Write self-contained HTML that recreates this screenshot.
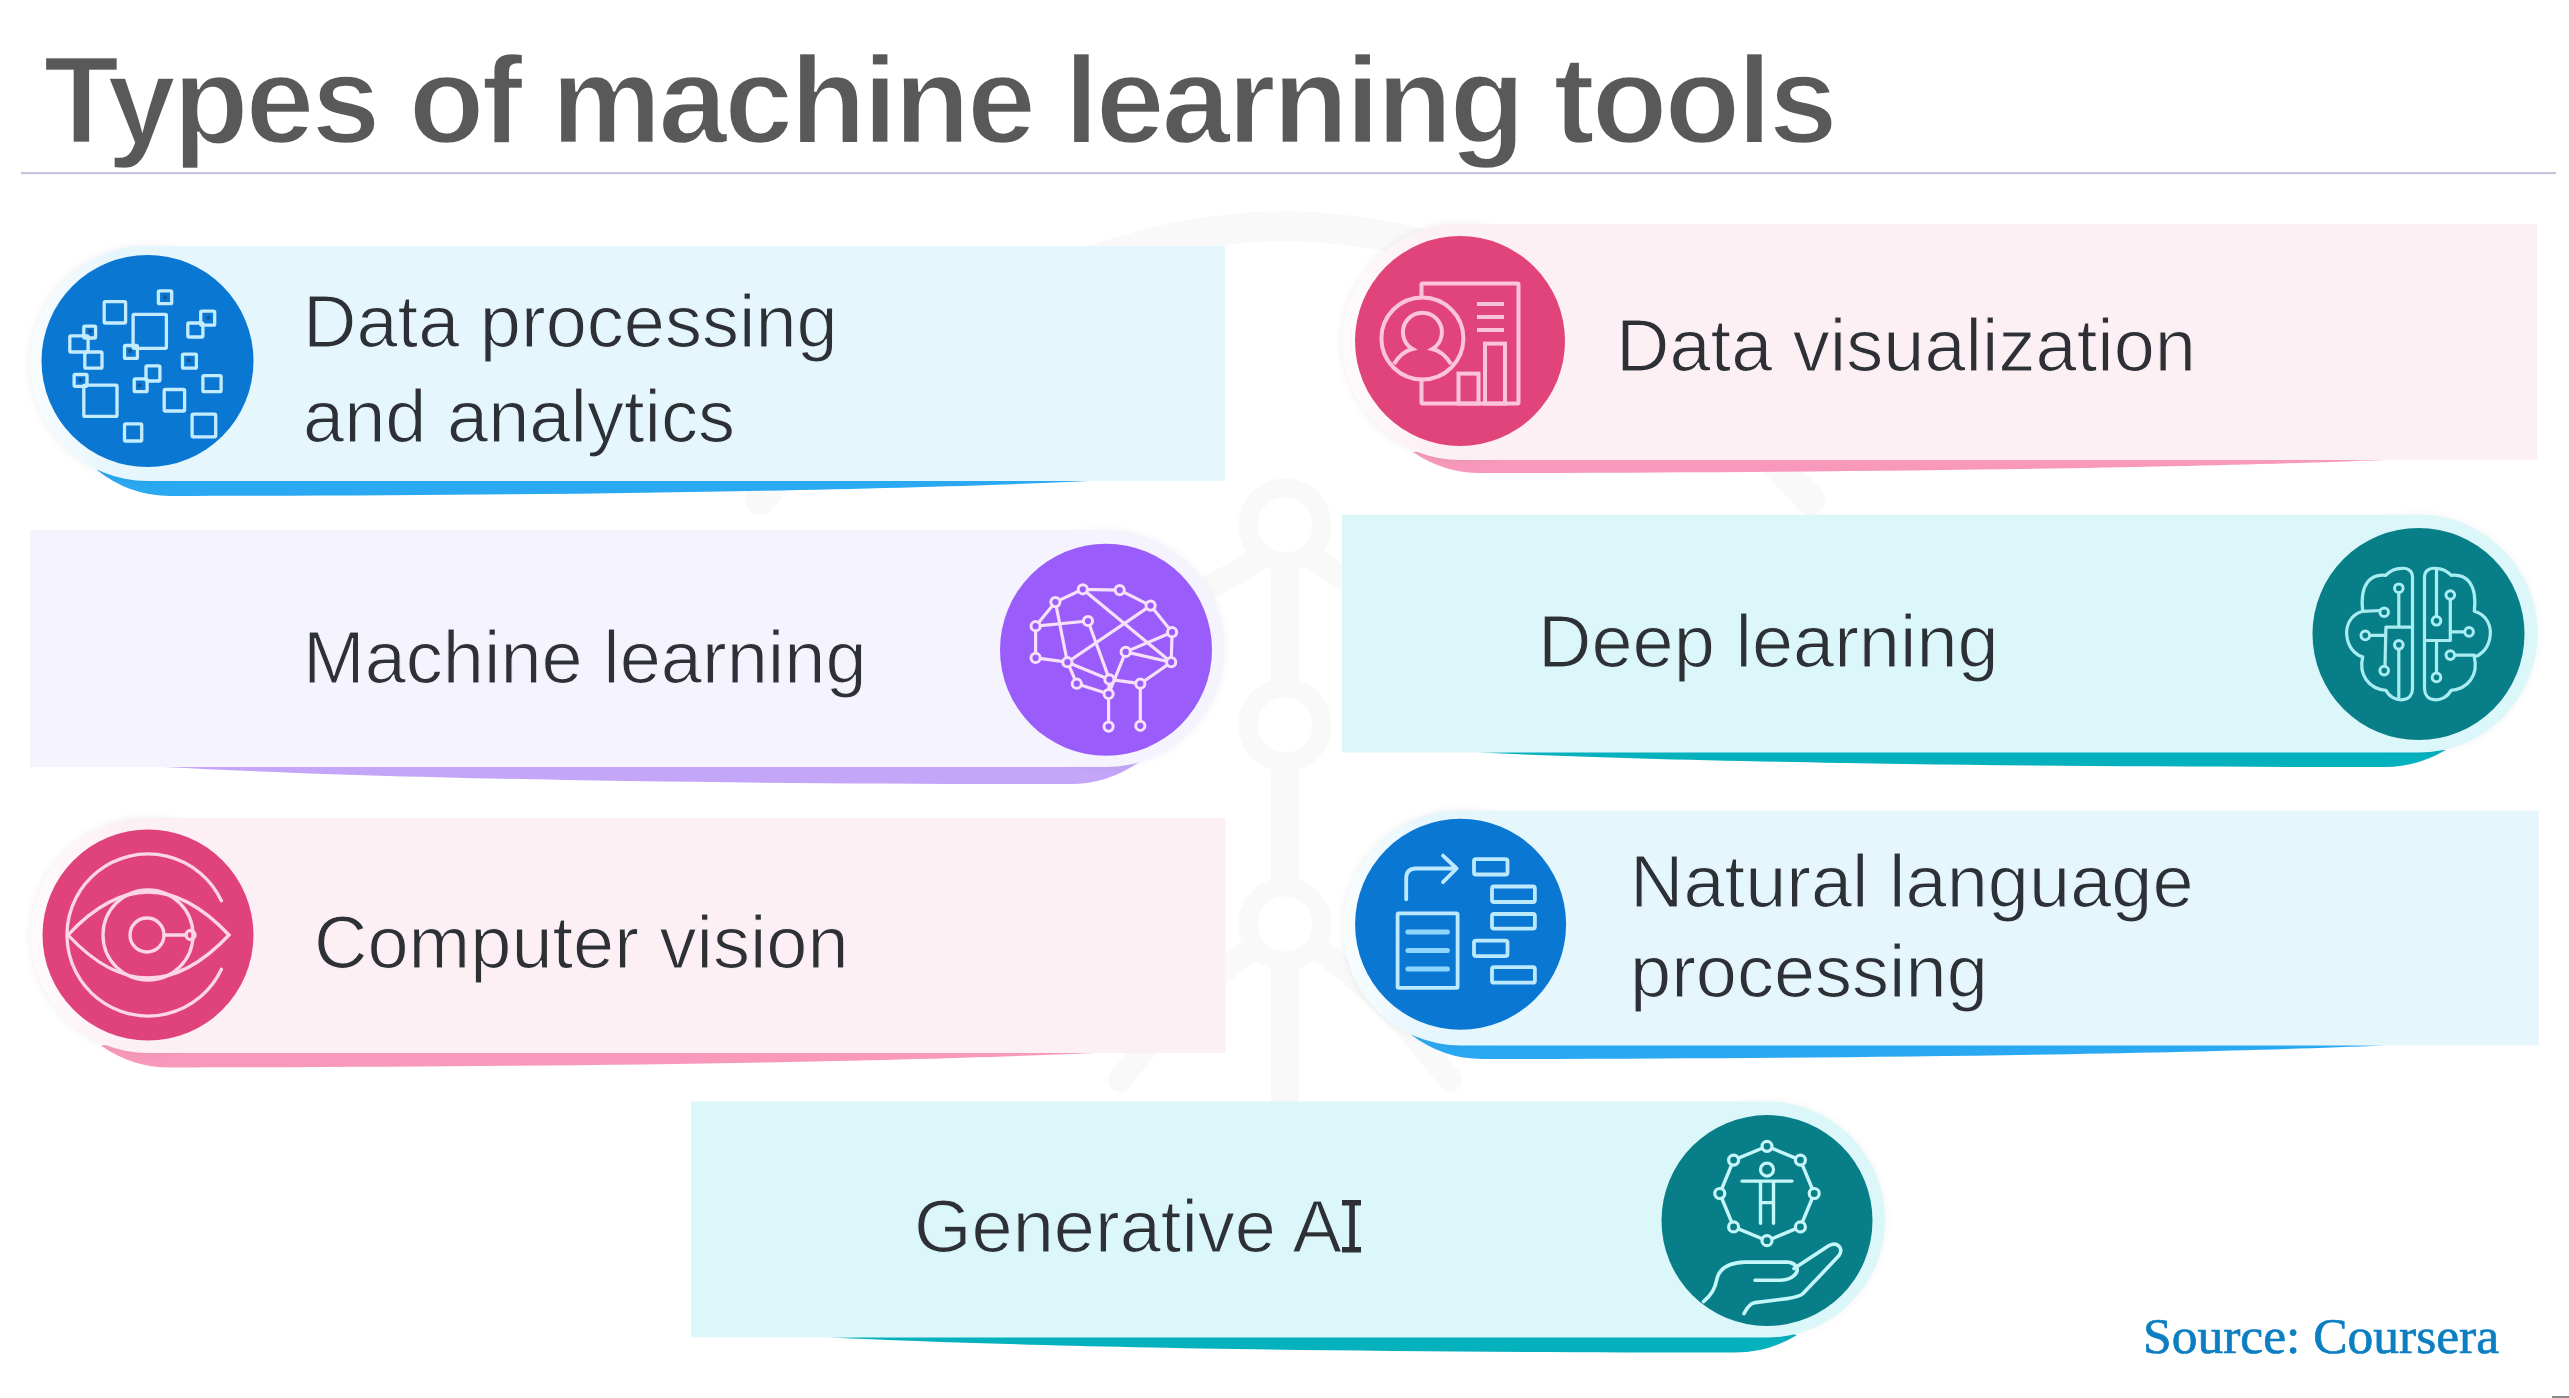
<!DOCTYPE html><html><head><meta charset="utf-8"><title>Types of machine learning tools</title><style>html,body{margin:0;padding:0;background:#fff;overflow:hidden}svg{display:block}</style></head><body><svg width="2569" height="1398" viewBox="0 0 2569 1398"><defs><filter id="sh" x="-30%" y="-30%" width="160%" height="160%"><feGaussianBlur stdDeviation="4"/></filter><filter id="bl" x="-5%" y="-50%" width="110%" height="200%"><feGaussianBlur stdDeviation="0.8"/></filter></defs><rect width="2569" height="1398" fill="#ffffff"/><g fill="none" stroke="#f9f9f9" stroke-linecap="round"><path d="M1285 560 V1110" stroke-width="28"/><circle cx="1285" cy="525" r="37" stroke-width="19" fill="#fff"/><circle cx="1285" cy="725" r="37" stroke-width="19" fill="#fff"/><circle cx="1285" cy="924" r="37" stroke-width="19" fill="#fff"/><path d="M1255 560 Q1200 600 1130 610 M1315 560 Q1370 600 1440 610" stroke-width="24"/><path d="M1250 950 Q1180 1000 1120 1080 M1320 950 Q1390 1000 1450 1080" stroke-width="24"/><path d="M760 500 Q1000 230 1285 226 Q1570 230 1810 500" stroke-width="30"/></g><rect x="2552" y="1396" width="17" height="2" fill="#8a8a8a"/><text x="43.5" y="143" font-family='"Liberation Sans", sans-serif' font-weight="bold" font-size="124" letter-spacing="-3.05" fill="#595959" stroke="#ffffff" stroke-width="2.4">Types of machine learning tools</text><rect x="21" y="172" width="2535" height="2.2" fill="#c9c4dd"/><path d="M97 470 A117.5 117.5 0 0 0 170.5 496 C602.7 495.5 906.1 489.2 1090 481 L170.5 469 Z" fill="#2aa9f2"/><defs><linearGradient id="g1" gradientUnits="userSpaceOnUse" x1="30.0" y1="0" x2="192.5" y2="0"><stop offset="0" stop-color="#ffffff"/><stop offset="0.55" stop-color="#ffffff" stop-opacity="0.0"/></linearGradient></defs><circle cx="147.5" cy="363.5" r="117.5" fill="#000" opacity="0.07" filter="url(#sh)"/><path d="M147.5 246 H1225 V481 H147.5 A117.5 117.5 0 0 1 147.5 246 Z" fill="#e5f6fd"/><path d="M147.5 246 H207.5 V481 H147.5 A117.5 117.5 0 0 1 147.5 246 Z" fill="url(#g1)" opacity="0.75"/><g transform="translate(147.5,361)"><circle r="106" fill="#0a78d2"/><g fill="none" stroke="#c4ecff" stroke-width="3.3" stroke-linejoin="round"><rect x="-43.3" y="-59.4" width="21.4" height="21.4" rx="1.2"/><rect x="-14.4" y="-46.6" width="33.3" height="33.9" rx="1.2"/><rect x="10.9" y="-70.2" width="13.3" height="12.9" rx="1.2"/><rect x="40.3" y="-38.0" width="15.1" height="14.0" rx="1.2"/><rect x="53.2" y="-49.8" width="14.0" height="14.0" rx="1.2"/><rect x="-77.7" y="-25.1" width="18.3" height="16.1" rx="1.2"/><rect x="-63.7" y="-34.8" width="11.8" height="11.8" rx="1.2"/><rect x="-62.7" y="-9.0" width="17.2" height="16.1" rx="1.2"/><rect x="-23.0" y="-15.5" width="12.9" height="12.9" rx="1.2"/><rect x="35.0" y="-6.9" width="13.9" height="14.0" rx="1.2"/><rect x="-13.3" y="17.8" width="12.9" height="12.9" rx="1.2"/><rect x="-1.5" y="4.9" width="13.9" height="15.1" rx="1.2"/><rect x="-73.4" y="13.5" width="12.9" height="11.8" rx="1.2"/><rect x="-63.7" y="24.2" width="33.2" height="31.2" rx="1.2"/><rect x="16.7" y="28.5" width="20.4" height="21.5" rx="1.2"/><rect x="55.4" y="14.6" width="18.2" height="16.1" rx="1.2"/><rect x="-23.0" y="62.9" width="17.2" height="17.1" rx="1.2"/><rect x="44.6" y="53.2" width="23.6" height="22.6" rx="1.2"/></g><g fill="#15578f"><circle cx="17.6" cy="-63.7" r="2"/><circle cx="60.7" cy="-43.3" r="2"/><circle cx="-57.3" cy="-29.4" r="2"/><circle cx="-17.6" cy="-10.1" r="2"/><circle cx="41.4" cy="-0.4" r="2"/><circle cx="-7.9" cy="24.2" r="2"/><circle cx="-67" cy="18.9" r="2"/></g></g><text x="303" y="346.5" font-family='"Liberation Sans", sans-serif' font-size="74" fill="#2d3135" stroke="#e5f6fd" stroke-width="1.2">Data processing</text><text x="303" y="441.5" font-family='"Liberation Sans", sans-serif' font-size="74" fill="#2d3135" stroke="#e5f6fd" stroke-width="1.2">and analytics</text><path d="M1413 452 A118 118 0 0 0 1480 473 C1905.3 472.5 2204.0 467.1 2385 460 L1480 448 Z" fill="#f899bb"/><defs><linearGradient id="g2" gradientUnits="userSpaceOnUse" x1="1342.0" y1="0" x2="1505" y2="0"><stop offset="0" stop-color="#ffffff"/><stop offset="0.55" stop-color="#ffffff" stop-opacity="0.0"/></linearGradient></defs><circle cx="1460" cy="342.0" r="118.0" fill="#000" opacity="0.07" filter="url(#sh)"/><path d="M1460 224 H2537 V460 H1460 A118.0 118.0 0 0 1 1460 224 Z" fill="#fdf0f5"/><path d="M1460 224 H1520 V460 H1460 A118.0 118.0 0 0 1 1460 224 Z" fill="url(#g2)" opacity="0.75"/><g transform="translate(1460,341)"><circle r="105" fill="#e0447a"/><g fill="none" stroke="#fcc3dc" stroke-width="4"><rect x="-38.5" y="-57.5" width="97" height="120" rx="1"/><path d="M17 -37 H44 M17 -24 H44 M17 -11 H44"/><rect x="25" y="2.6" width="20" height="60" /><rect x="-1.5" y="32.6" width="20" height="30" /><circle cx="-37.6" cy="-2.5" r="41" fill="#e0447a"/><path d="M-66 23 C-60 13 -54 9.5 -47.5 8 A19.5 19.5 0 1 1 -27.7 8 C-21 9.5 -15 13 -9 23"/></g></g><text x="1616" y="370.5" font-family='"Liberation Sans", sans-serif' font-size="74" fill="#2d3135" stroke="#fdf0f5" stroke-width="1.2">Data visualization</text><path d="M164 767 C345.2 776.4 617.1 784.0 1070.2 784 A118.5 118.5 0 0 0 1139 762 L1070.2 750 Z" fill="#c3a6f7"/><circle cx="1106" cy="648.5" r="118.5" fill="#000" opacity="0.05" filter="url(#sh)"/><path d="M30 530 H1106 A118.5 118.5 0 0 1 1106 767 H30 Z" fill="#f5f3fd"/><g transform="translate(1106,649.7)"><circle r="106" fill="#9a5cfb"/><g fill="none" stroke="#f7e0fa" stroke-width="3.2" stroke-linecap="round"><path d="M-23.2 -60.4L13.7 -59.6M-23.2 -60.4L-50.6 -47.6M13.7 -59.6L44.6 -44.1M-50.6 -47.6L-70.4 -23.5M-70.4 -23.5L-70.4 8.2M-70.4 8.2L-38.6 12.5M-50.6 -47.6L-38.6 12.5M-70.4 -23.5L-18.0 -28.7M-18.0 -28.7L3.4 29.7M3.4 29.7L2.6 44.3M-23.2 -60.4L65.2 12.5M44.6 -44.1L-38.6 12.5M66.1 -17.5L19.7 2.2M19.7 2.2L65.2 12.5M66.1 -17.5L65.2 12.5M44.6 -44.1L66.1 -17.5M65.2 12.5L34.3 34.0M34.3 34.0L34.3 76.1M-38.6 12.5L3.4 29.7M3.4 29.7L34.3 34.0M-38.6 12.5L-29.2 34.0M-29.2 34.0L2.6 44.3M2.6 44.3L2.6 76.9M19.7 2.2L2.6 44.3"/></g><g fill="#9a5cfb" stroke="#f7e0fa" stroke-width="3"><circle cx="-23.2" cy="-60.4" r="4.6"/><circle cx="13.7" cy="-59.6" r="4.6"/><circle cx="-50.6" cy="-47.6" r="4.6"/><circle cx="44.6" cy="-44.1" r="4.6"/><circle cx="-70.4" cy="-23.5" r="4.6"/><circle cx="-18.0" cy="-28.7" r="4.6"/><circle cx="66.1" cy="-17.5" r="4.6"/><circle cx="19.7" cy="2.2" r="4.6"/><circle cx="-70.4" cy="8.2" r="4.6"/><circle cx="-38.6" cy="12.5" r="4.6"/><circle cx="65.2" cy="12.5" r="4.6"/><circle cx="3.4" cy="29.7" r="4.6"/><circle cx="-29.2" cy="34.0" r="4.6"/><circle cx="34.3" cy="34.0" r="4.6"/><circle cx="2.6" cy="44.3" r="4.6"/><circle cx="2.6" cy="76.9" r="4.6"/><circle cx="34.3" cy="76.1" r="4.6"/></g></g><text x="303" y="683.2" font-family='"Liberation Sans", sans-serif' font-size="74" fill="#2d3135" stroke="#f5f3fd" stroke-width="1.2">Machine learning</text><path d="M1478 752.5 C1659.3 760.5 1931.2 767.0 2384.3 767 A119 119 0 0 0 2445.6 750 L2384.3 738 Z" fill="#06b1be"/><circle cx="2418.5" cy="633.5" r="119.0" fill="#000" opacity="0.05" filter="url(#sh)"/><path d="M1342 514.5 H2418.5 A119.0 119.0 0 0 1 2418.5 752.5 H1342 Z" fill="#dbf7fa"/><g transform="translate(2418.5,634)"><circle r="106" fill="#087f88"/><g fill="none" stroke="#a9edf3" stroke-width="3.2" stroke-linecap="round" stroke-linejoin="round"><path d="M-6.0 -57.0 C-6.0 -63.9 -12.0 -66.4 -17.2 -65.6 C-25.8 -65.6 -30.9 -60.4 -32.6 -58.7 C-46.4 -60.4 -59.2 -51.8 -55.8 -22.7 C-68.7 -19.2 -73.8 -7.2 -71.2 4.8 C-68.7 16.8 -60.1 22.0 -55.8 22.8 C-60.1 40.9 -49.8 54.6 -32.6 56.3 C-29.2 63.2 -22.3 65.8 -17.2 65.8 C-8.6 65.8 -6.0 59.7 -6.0 54.6 Z"/><path d="M6.0 -57.0 C6.0 -63.9 12.0 -66.4 17.2 -65.6 C25.8 -65.6 30.9 -60.4 32.6 -58.7 C46.4 -60.4 59.2 -51.8 55.8 -22.7 C68.7 -19.2 73.8 -7.2 71.2 4.8 C68.7 16.8 60.1 22.0 55.8 22.8 C60.1 40.9 49.8 54.6 32.6 56.3 C29.2 63.2 22.3 65.8 17.2 65.8 C8.6 65.8 6.0 59.7 6.0 54.6 Z"/><path d="M-19.7 -41.5 L-19.7 -7.2 M-6.0 -6.9 L-32.6 -6.9 L-33.5 32.3 M-48.9 1.4 L-33.5 1.4 M-37.8 -23.5 L-55.8 -22.7 M-19.7 15.1 L-19.7 63.2"/><path d="M18.0 -63.9 L18.0 -17.5 M31.8 -34.7 L31.8 6.5 L6.0 6.5 M46.4 -2.1 L32.6 -2.1 M36.1 21.1 L55.8 21.1 M18.0 7.4 L18.0 39.1"/></g><g fill="#087f88" stroke="#a9edf3" stroke-width="3"><circle cx="-19.7" cy="-45.8" r="4.3"/><circle cx="-34.3" cy="-21.8" r="4.3"/><circle cx="-53.2" cy="1.4" r="4.3"/><circle cx="-19.7" cy="10.8" r="4.3"/><circle cx="-34.3" cy="36.6" r="4.3"/><circle cx="31.8" cy="-39.0" r="4.3"/><circle cx="18.0" cy="-13.2" r="4.3"/><circle cx="50.6" cy="-2.1" r="4.3"/><circle cx="31.8" cy="21.1" r="4.3"/><circle cx="18.0" cy="43.4" r="4.3"/></g></g><text x="1538" y="666.7" font-family='"Liberation Sans", sans-serif' font-size="74" fill="#2d3135" stroke="#dbf7fa" stroke-width="1.2">Deep learning</text><path d="M101 1045.5 A117.5 117.5 0 0 0 169.5 1067.5 C604.5 1067.0 909.9 1061.0 1095 1053 L169.5 1041 Z" fill="#f899bb"/><defs><linearGradient id="g3" gradientUnits="userSpaceOnUse" x1="30.5" y1="0" x2="193" y2="0"><stop offset="0" stop-color="#ffffff"/><stop offset="0.55" stop-color="#ffffff" stop-opacity="0.0"/></linearGradient></defs><circle cx="148" cy="935.5" r="117.5" fill="#000" opacity="0.07" filter="url(#sh)"/><path d="M148 818 H1225.5 V1053 H148 A117.5 117.5 0 0 1 148 818 Z" fill="#fdf0f5"/><path d="M148 818 H208 V1053 H148 A117.5 117.5 0 0 1 148 818 Z" fill="url(#g3)" opacity="0.75"/><g transform="translate(148,935)"><circle r="105.5" fill="#e0437b"/><g fill="none" stroke="#fcd5e6" stroke-width="3.3" stroke-linecap="round"><path d="M73.4 -34.2 A81 81 0 1 0 73.4 34.2"/><path d="M-80 0 Q0 -86 81 0 Q0 86 -80 0 Z"/><circle cx="0" cy="0" r="45"/><circle cx="-1" cy="0" r="17"/><path d="M16 0 H38"/><circle cx="42.5" cy="0" r="4.5"/></g></g><text x="314" y="967.5" font-family='"Liberation Sans", sans-serif' font-size="74" fill="#2d3135" stroke="#fdf0f5" stroke-width="1.2">Computer vision</text><path d="M1411 1034.5 A117.5 117.5 0 0 0 1482.8 1059 C1906.8 1058.5 2204.6 1052.9 2385 1045.5 L1482.8 1033.5 Z" fill="#2aa9f2"/><defs><linearGradient id="g4" gradientUnits="userSpaceOnUse" x1="1343.1" y1="0" x2="1505.6" y2="0"><stop offset="0" stop-color="#ffffff"/><stop offset="0.55" stop-color="#ffffff" stop-opacity="0.0"/></linearGradient></defs><circle cx="1460.6" cy="928.0" r="117.5" fill="#000" opacity="0.07" filter="url(#sh)"/><path d="M1460.6 810.5 H2538.8 V1045.5 H1460.6 A117.5 117.5 0 0 1 1460.6 810.5 Z" fill="#e5f6fd"/><path d="M1460.6 810.5 H1520.6 V1045.5 H1460.6 A117.5 117.5 0 0 1 1460.6 810.5 Z" fill="url(#g4)" opacity="0.75"/><g transform="translate(1460.6,924.3)"><circle r="105.5" fill="#0a78d2"/><g fill="none" stroke="#bde9ff" stroke-width="3.8" stroke-linecap="round" stroke-linejoin="round"><rect x="-63" y="-11" width="60" height="74.5" rx="1"/><path d="M-54.4 -25 V-46 Q-54.4 -55.8 -44.6 -55.8 H-4 M-17.6 -68.7 L-4 -55.8 L-17.6 -42.1"/><rect x="13.4" y="-65.2" width="33.5" height="15.4" rx="2"/><rect x="31.4" y="-37.8" width="42.9" height="15.5" rx="2"/><rect x="31.4" y="-10.3" width="42.9" height="14.6" rx="2"/><rect x="13.4" y="16.3" width="33.5" height="15.5" rx="2"/><rect x="31.4" y="42.9" width="42.9" height="15.5" rx="2"/></g><path d="M-52.7 7.7 H-13.2 M-52.7 26.3 H-13.2 M-52.7 44.6 H-13.2" stroke="#8fd6ff" stroke-width="5" stroke-linecap="round"/></g><text x="1630" y="907" font-family='"Liberation Sans", sans-serif' font-size="74" fill="#2d3135" stroke="#e5f6fd" stroke-width="1.2">Natural language</text><text x="1630" y="996.5" font-family='"Liberation Sans", sans-serif' font-size="74" fill="#2d3135" stroke="#e5f6fd" stroke-width="1.2">processing</text><path d="M830 1337.5 C1011.0 1345.8 1282.6 1352.5 1735.2 1352.5 A118 118 0 0 0 1797 1335 L1735.2 1323 Z" fill="#06b1be"/><circle cx="1767" cy="1219.5" r="118.0" fill="#000" opacity="0.05" filter="url(#sh)"/><path d="M691 1101.5 H1767 A118.0 118.0 0 0 1 1767 1337.5 H691 Z" fill="#dbf7fa"/><g transform="translate(1767,1220.6)"><circle r="105.5" fill="#087f88"/><g fill="none" stroke="#c5f6fa" stroke-width="3.4" stroke-linecap="round" stroke-linejoin="round"><path d="M0.0 -74.3 L33.4 -60.5 L47.2 -27.1 L33.4 6.3 L0.0 20.1 L-33.4 6.3 L-47.2 -27.1 L-33.4 -60.5 Z"/><path d="M-25 -39.5 H25 M-6.5 -39.5 V2.6 M6.5 -39.5 V2.6 M-6.5 -18 H6.5"/></g><g fill="#087f88" stroke="#c5f6fa" stroke-width="3.2"><circle cx="0.0" cy="-74.3" r="5"/><circle cx="33.4" cy="-60.5" r="5"/><circle cx="47.2" cy="-27.1" r="5"/><circle cx="33.4" cy="6.3" r="5"/><circle cx="0.0" cy="20.1" r="5"/><circle cx="-33.4" cy="6.3" r="5"/><circle cx="-47.2" cy="-27.1" r="5"/><circle cx="-33.4" cy="-60.5" r="5"/><circle cx="0" cy="-51" r="6.5"/></g><g fill="none" stroke="#c5f6fa" stroke-width="3.6" stroke-linecap="round" stroke-linejoin="round"><path d="M-63.5 81 C-55 74 -52 68 -50 58 C-47 46 -36 42 -22 41.5 H20 C30 42 33 50 27 55 C24 58 20 59.6 14 59.6 H-12"/><path d="M27 48 L62 25 C70 21 77 27 72 35 L36 73 C33 76 28 77 20 78 L-12 82 C-17 83 -20 87 -23 93"/></g></g><text x="914" y="1252.4" font-family='"Liberation Sans", sans-serif' font-size="74" fill="#2d3135" stroke="#dbf7fa" stroke-width="1.2">Generative AI</text><path d="M1342 1200 H1361 V1205.5 H1342 Z M1342 1247 H1361 V1252.4 H1342 Z" fill="#2d3135"/><text x="2143" y="1353" font-family='"Liberation Serif", serif' font-size="51.5" fill="#0c7ec2" stroke="#0c7ec2" stroke-width="0.7">Source: Coursera</text></svg></body></html>
